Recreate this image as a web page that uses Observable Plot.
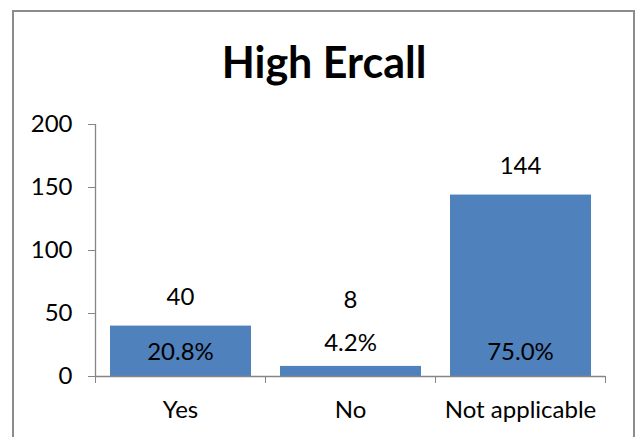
<!DOCTYPE html>
<html>
<head>
<meta charset="utf-8">
<script src="https://cdn.jsdelivr.net/npm/d3@7"></script>
<script src="https://cdn.jsdelivr.net/npm/@observablehq/plot@0.6"></script>
<style>
  html, body { margin: 0; padding: 0; background: #fff; }
  #wrap { position: relative; width: 636px; height: 437px; overflow: hidden; font-family: Lato, "Open Sans", sans-serif; }
  #border { position: absolute; left: 12px; top: 10px; width: 623px; height: 460px; border: 2px solid #8c8c8c; box-sizing: border-box; }
  #title { position: absolute; left: 0; width: 648px; top: 37px; text-align: center; font-size: 43px; font-weight: bold; color: #000; line-height: 50px; }
  #chart { position: absolute; left: 0; top: 0; }
</style>
</head>
<body>
<div id="wrap">
  <div id="border"></div>
  <div id="title">High Ercall</div>
  <div id="chart"></div>
</div>
<script>
const categories = ["Yes", "No", "Not applicable"];
const counts = [40, 8, 144];
const percents = ["20.8%", "4.2%", "75.0%"];
const yTicks = [0, 50, 100, 150, 200];

const data = categories.map((c, i) => ({cat: c, i, count: counts[i], pct: percents[i], small: counts[i] < 20}));
const big = data.filter(d => !d.small);
const small = data.filter(d => d.small);

const font = "Lato, 'Open Sans', sans-serif";
const fs = 24;
const chart = Plot.plot({
  width: 636,
  height: 437,
  marginLeft: 95,
  marginRight: 31,
  marginTop: 124,
  marginBottom: 61,
  style: {fontFamily: font, fontSize: fs + "px", color: "#000", background: "transparent"},
  x: {type: "linear", domain: [0, categories.length], axis: null},
  y: {domain: [0, 200], axis: null},
  marks: [
    Plot.rectY(data, {x1: d => d.i, x2: d => d.i + 1, y: "count", fill: "#4F81BD", insetLeft: 15, insetRight: 14}),
    Plot.axisY(yTicks, {tickSize: 7, tickPadding: 16, stroke: "#868686", fill: "#000", fontSize: fs, tickFormat: d => String(d), label: null}),
    Plot.axisX(d3.range(categories.length + 1), {tickSize: 7, stroke: "#868686", tickFormat: () => "", label: null}),
    Plot.axisX(categories.map((c, i) => i + 0.5), {tickSize: 0, tickPadding: 24, fill: "#000", fontSize: fs, tickFormat: d => categories[Math.floor(d)], label: null}),
    Plot.ruleY([0], {stroke: "#868686", strokeWidth: 1.3}),
    Plot.ruleX([0], {y1: 0, y2: 200, stroke: "#868686", strokeWidth: 1.3}),
    // percentage labels
    Plot.text(big, {x: d => d.i + 0.5, y: () => 0, text: "pct", dy: -24, fill: "#000", fontSize: fs, lineAnchor: "middle"}),
    Plot.text(small, {x: d => d.i + 0.5, y: "count", text: "pct", dy: -23, fill: "#000", fontSize: fs, lineAnchor: "middle"}),
    // count labels
    Plot.text(big, {x: d => d.i + 0.5, y: "count", text: d => String(d.count), dy: -29, fill: "#000", fontSize: fs, lineAnchor: "middle"}),
    Plot.text(small, {x: d => d.i + 0.5, y: "count", text: d => String(d.count), dy: -66, fill: "#000", fontSize: fs, lineAnchor: "middle"})
  ]
});
document.getElementById("chart").appendChild(chart);
</script>
</body>
</html>
